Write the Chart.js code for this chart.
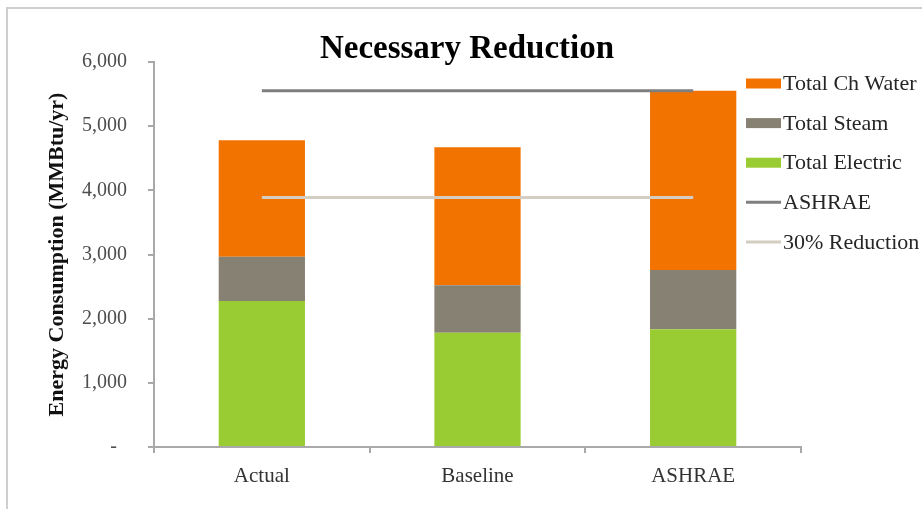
<!DOCTYPE html>
<html>
<head>
<meta charset="utf-8">
<script src="https://cdn.jsdelivr.net/npm/chart.js@4.4.1/dist/chart.umd.min.js"></script>
<style>
  html, body { margin: 0; padding: 0; background: #ffffff; }
  #wrap { width: 922px; height: 509px; position: relative; }
</style>
</head>
<body>
<div id="wrap"><canvas id="chart" width="922" height="509"></canvas></div>
<script>
// Energy use per scenario (MMBtu/yr)
const categories = ['Actual', 'Baseline', 'ASHRAE'];
const totalElectric = [2275, 1781, 1834];
const totalSteam = [691, 739, 924];
const totalChWater = [1814, 2150, 2795];
const ashraeTarget = [5553, 5553, 5553];
const reductionTarget = [3890, 3890, 3890];

const yTickValues = [0, 1000, 2000, 3000, 4000, 5000, 6000];
const yTickLabels = ['-  ', '1,000', '2,000', '3,000', '4,000', '5,000', '6,000'];

const SERIF = '"Liberation Serif", "Times New Roman", serif';
const AXIS_GRAY = '#a9a9a9';

// White page with a light frame around the chart
const framePlugin = {
  id: 'frame',
  beforeDraw(chart) {
    const ctx = chart.ctx;
    ctx.save();
    ctx.fillStyle = '#ffffff';
    ctx.fillRect(0, 0, chart.width, chart.height);
    ctx.strokeStyle = '#cfcfcf';
    ctx.lineWidth = 2;
    ctx.strokeRect(7, 8, chart.width + 20, chart.height + 20);
    ctx.restore();
  }
};

// Chart heading
const headingPlugin = {
  id: 'heading',
  afterDraw(chart) {
    const ctx = chart.ctx;
    ctx.save();
    ctx.font = 'bold 33px ' + SERIF;
    ctx.fillStyle = '#000000';
    ctx.textAlign = 'center';
    ctx.textBaseline = 'middle';
    ctx.fillText('Necessary Reduction', 467, 49);
    ctx.restore();
  }
};

// Legend on the right: boxes for the stacked bars, short strokes for the lines
const sideLegendPlugin = {
  id: 'sideLegend',
  afterDraw(chart) {
    const ctx = chart.ctx;
    const ds = chart.data.datasets;
    const order = ['chw', 'steam', 'electric', 'ashrae', 'reduction'];
    ctx.save();
    ctx.font = '22px ' + SERIF;
    ctx.textBaseline = 'middle';
    ctx.textAlign = 'left';
    order.forEach((key, i) => {
      const d = ds.find(x => x.key === key);
      const y = 83.5 + i * 39.6;
      if (d.type === 'line') {
        ctx.strokeStyle = d.borderColor;
        ctx.lineWidth = 3;
        ctx.beginPath();
        ctx.moveTo(746, y);
        ctx.lineTo(781, y);
        ctx.stroke();
      } else {
        ctx.fillStyle = d.backgroundColor;
        ctx.fillRect(746, y - 5, 35, 10);
      }
      ctx.fillStyle = '#262626';
      ctx.fillText(d.label, 783, y + 1);
    });
    ctx.restore();
  }
};

new Chart(document.getElementById('chart'), {
  type: 'bar',
  data: {
    labels: categories,
    datasets: [
      { key: 'ashrae', type: 'line', label: 'ASHRAE', data: ashraeTarget, stack: 'ashraeLine',
        borderColor: '#7f7f7f', borderWidth: 3, pointRadius: 0, fill: false, order: 0 },
      { key: 'reduction', type: 'line', label: '30% Reduction', data: reductionTarget, stack: 'reductionLine',
        borderColor: '#d3cdc2', borderWidth: 3, pointRadius: 0, fill: false, order: 0 },
      { key: 'electric', label: 'Total Electric', data: totalElectric, stack: 'energy',
        backgroundColor: '#99cc33', order: 1 },
      { key: 'steam', label: 'Total Steam', data: totalSteam, stack: 'energy',
        backgroundColor: '#868172', order: 1 },
      { key: 'chw', label: 'Total Ch Water', data: totalChWater, stack: 'energy',
        backgroundColor: '#f27300', order: 1 }
    ]
  },
  options: {
    responsive: false,
    animation: false,
    devicePixelRatio: 1,
    layout: { padding: { left: 0, top: 62, right: 121, bottom: 22 } },
    datasets: { bar: { categoryPercentage: 1.0, barPercentage: 0.4 } },
    plugins: {
      legend: { display: false },
      title: { display: false },
      tooltip: { enabled: false }
    },
    scales: {
      x: {
        stacked: true,
        offset: true,
        grid: { offset: true, drawOnChartArea: false, drawTicks: true, tickLength: 6, color: AXIS_GRAY, lineWidth: 2 },
        border: { display: true, color: AXIS_GRAY, width: 2 },
        ticks: { color: '#333333', padding: 11, font: { family: SERIF, size: 21 } },
        afterFit(scale) { scale.height = 40; }
      },
      y: {
        stacked: true,
        min: 0,
        max: 6000,
        afterBuildTicks(scale) { scale.ticks = yTickValues.map(v => ({ value: v })); },
        grid: { drawOnChartArea: false, drawTicks: true, tickLength: 6, color: AXIS_GRAY, lineWidth: 2 },
        border: { display: true, color: AXIS_GRAY, width: 2 },
        ticks: {
          color: '#4d4d4d',
          padding: 21,
          font: { family: SERIF, size: 20 },
          callback(value) {
            const i = yTickValues.indexOf(value);
            return i >= 0 ? yTickLabels[i] : '';
          }
        },
        title: {
          display: true,
          text: 'Energy Consumption (MMBtu/yr)',
          color: '#111111',
          font: { family: SERIF, size: 22, weight: 'bold' },
          padding: { top: 44, bottom: 0 }
        },
        afterFit(scale) { scale.width = 154; }
      }
    }
  },
  plugins: [framePlugin, headingPlugin, sideLegendPlugin]
});
</script>
</body>
</html>
